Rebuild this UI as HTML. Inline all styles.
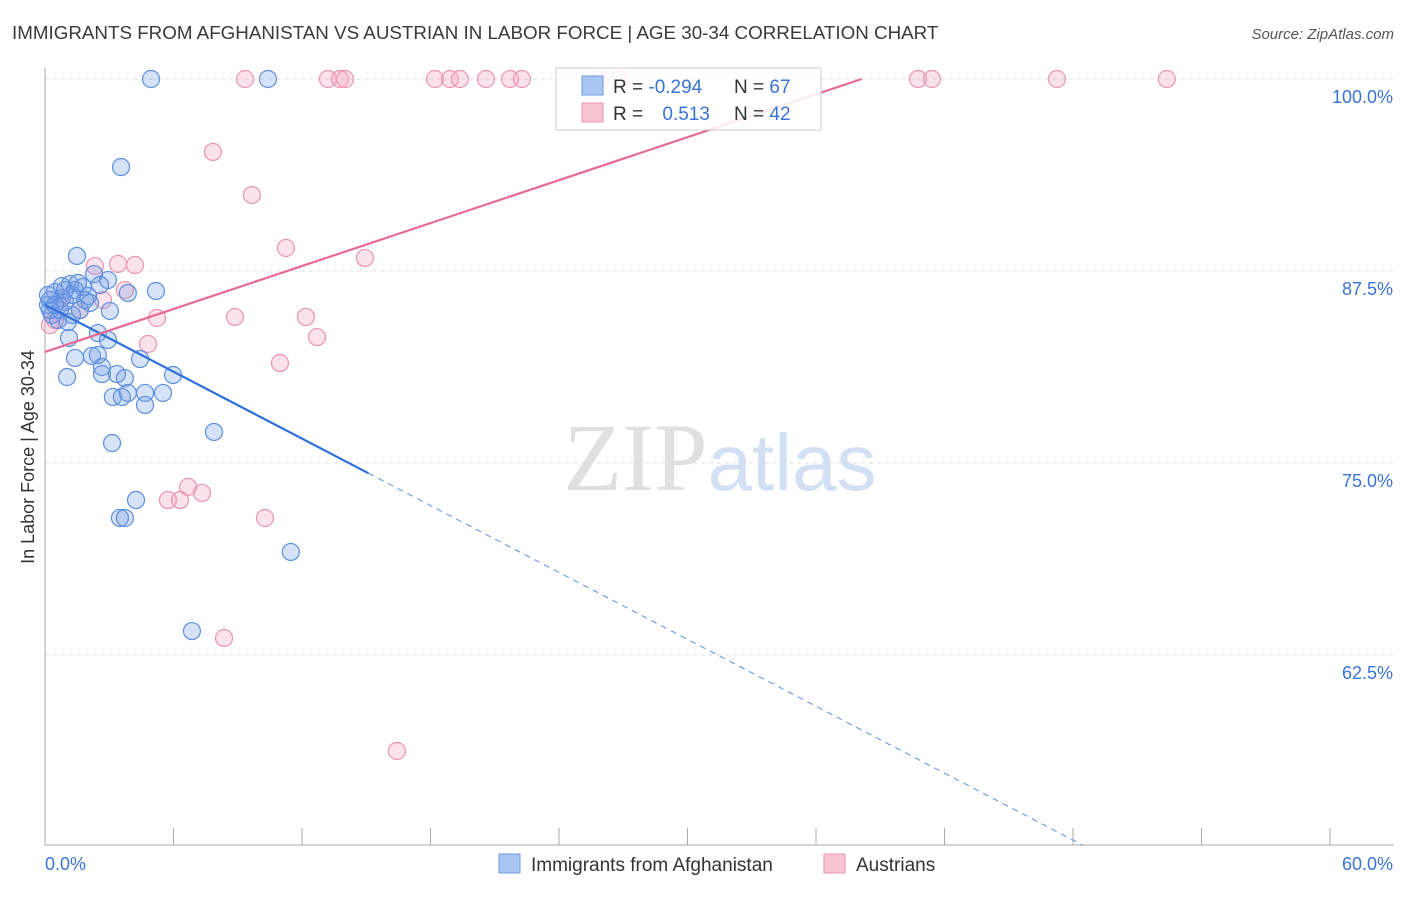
<!DOCTYPE html>
<html><head><meta charset="utf-8"><style>
body{margin:0;background:#fff;font-family:"Liberation Sans",sans-serif}
svg text{font-family:"Liberation Sans",sans-serif}
</style></head><body>
<svg id="chart" width="1406" height="892" xmlns="http://www.w3.org/2000/svg">
<text x="12" y="39" font-size="18.8" fill="#3a3a3a">IMMIGRANTS FROM AFGHANISTAN VS AUSTRIAN IN LABOR FORCE | AGE 30-34 CORRELATION CHART</text>
<text x="1394" y="39" font-size="15" fill="#555" text-anchor="end" font-style="italic">Source: ZipAtlas.com</text>
<text x="720" y="490" font-size="96" text-anchor="middle"><tspan fill="#e0e0e0" font-family="Liberation Serif">ZIP</tspan><tspan fill="#d3e0f4" font-size="80">atlas</tspan></text>
<text transform="translate(34,457) rotate(-90)" font-size="18" fill="#333" text-anchor="middle">In Labor Force | Age 30-34</text>
<g id="grid"></g><g id="marks"></g>
<g>
<rect x="556" y="68" width="265" height="62" fill="rgba(255,255,255,0.85)" stroke="#ccc"/>
<rect x="582" y="76" width="21" height="19" fill="#a9c6f2" stroke="#6d9be0"/>
<rect x="582" y="103" width="21" height="19" fill="#f8c3d3" stroke="#eb93b0"/>
<text x="613" y="93" font-size="19" fill="#333">R = <tspan fill="#3a74d6">-0.294</tspan></text>
<text x="734" y="93" font-size="19" fill="#333">N = <tspan fill="#3a74d6">67</tspan></text>
<text x="613" y="120" font-size="19" fill="#333">R = <tspan fill="#3a74d6" dx="14">0.513</tspan></text>
<text x="734" y="120" font-size="19" fill="#333">N = <tspan fill="#3a74d6">42</tspan></text>
</g>
<g>
<rect x="499" y="854" width="21" height="19" fill="#a9c6f2" stroke="#6d9be0"/>
<text x="531" y="871" font-size="19" fill="#333">Immigrants from Afghanistan</text>
<rect x="824" y="854" width="21" height="19" fill="#f8c3d3" stroke="#eb93b0"/>
<text x="856" y="871" font-size="19" fill="#333">Austrians</text>
</g>
</svg>
<script>
const xTicks=[0,6,12,18,24,30,36,42,48,54,60];
const yTicks=[100,87.5,75,62.5];
const blueX=[4.95,10.41,3.55,1.49,2.29,2.94,1.17,1.77,0.47,0.79,1.40,2.01,5.18,3.87,0.23,0.93,1.63,3.03,0.33,0.61,1.26,2.47,2.94,1.12,1.40,2.19,2.47,4.44,2.66,2.66,3.36,3.73,1.03,5.98,3.17,3.59,3.87,4.67,4.67,5.51,7.89,3.13,4.25,3.50,3.73,11.48,6.86,0.14,0.23,0.70,1.87,1.26,2.57,0.93,0.47,2.10,1.54,0.14,1.07,0.79];
const blueY=[100,100,94.27,88.48,87.30,86.91,86.65,86.46,86.13,85.74,86.26,85.87,86.20,86.07,85.61,85.48,84.96,84.90,84.64,84.31,84.64,83.46,83.01,83.14,81.84,81.97,82.03,81.77,81.25,80.79,80.79,80.53,80.60,80.73,79.30,79.30,79.56,79.56,78.78,79.56,77.02,76.30,72.59,71.42,71.42,69.21,64.06,85.29,84.96,84.96,85.61,85.94,86.59,86.26,85.29,85.42,86.72,85.94,84.18,86.52];
const pinkX=[9.34,13.21,13.77,14.01,18.21,18.91,19.37,20.59,21.71,22.27,25.91,26.84,40.76,41.41,47.25,52.38,7.84,9.66,11.25,14.94,3.41,4.20,2.33,3.73,2.71,5.23,8.87,12.18,1.63,12.70,4.81,10.97,0.23,0.47,6.68,7.33,5.74,6.30,10.27,8.36,16.43,0.70];
const pinkY=[100,100,100,100,100,100,100,100,100,100,100,100,100,100,100,100,95.25,92.45,89.00,88.35,87.96,87.89,87.83,86.26,85.61,84.44,84.51,84.51,84.96,83.20,82.75,81.51,83.98,84.31,73.44,73.05,72.59,72.59,71.42,63.61,56.25,85.61];
const blueTrend=[85.3,-0.726,15.1];
const pinkTrend=[82.23,0.466];
const X0=45,X1=1330,xMin=0,xMax=60,Y100=79,pxPer=15.36,yBottom=845;
const sx=v=>X0+(v-xMin)/(xMax-xMin)*(X1-X0);
const sy=v=>Y100+(100-v)*pxPer;
const yMinVal=100-(yBottom-Y100)/pxPer;
const NS='http://www.w3.org/2000/svg';
function mk(tag,at,parent){const e=document.createElementNS(NS,tag);for(const k in at)e.setAttribute(k,at[k]);parent.appendChild(e);return e;}
const grid=document.getElementById('grid'),marks=document.getElementById('marks');
yTicks.forEach(t=>{
 const l=mk('line',{x1:X0,x2:1394,y1:sy(t),y2:sy(t),stroke:'#ddd','stroke-dasharray':'4,4'},grid);
 
 
 const tx=mk('text',{x:1393,y:sy(t)+24,'font-size':18,fill:'#3a74d6','text-anchor':'end'},grid);
 tx.textContent=t.toFixed(1)+'%';
 
 
});
const ax=mk('line',{x1:X0,x2:X0,y1:68,y2:yBottom,stroke:'#aaa'},grid);


const bx=mk('line',{x1:X0,x2:1394,y1:yBottom,y2:yBottom,stroke:'#aaa'},grid);


xTicks.forEach(t=>{
 const l=mk('line',{x1:sx(t),x2:sx(t),y1:yBottom,y2:yBottom-17,stroke:'#aaa'},grid);
 
 
});
[[0,'start'],[60,'end']].forEach(([t,a])=>{
 const tx=mk('text',{x:t==0?45:1393,y:870,'font-size':18,fill:'#3a74d6','text-anchor':a},grid);
 tx.textContent=t.toFixed(1)+'%';
 
 
});
function dots(xs,ys,fill,stroke,name){
 xs.forEach((x,i)=>{
  const c=mk('circle',{cx:sx(x),cy:sy(ys[i]),r:8.5,fill:fill,stroke:stroke,'stroke-width':1.2},marks);
  
  
 });
}
dots(pinkX,pinkY,'rgba(244,160,190,0.3)','#eb93b0','austrian-point');
dots(blueX,blueY,'rgba(120,160,230,0.3)','#5b8fe0','afghanistan-point');
const bf=x=>blueTrend[0]+blueTrend[1]*x;
const bEnd=(yMinVal-blueTrend[0])/blueTrend[1];
const b1=mk('line',{x1:sx(0),y1:sy(bf(0)),x2:sx(blueTrend[2]),y2:sy(bf(blueTrend[2])),stroke:'#2f6fd8','stroke-width':2.2},marks);


const b2=mk('line',{x1:sx(blueTrend[2]),y1:sy(bf(blueTrend[2])),x2:sx(bEnd),y2:sy(bf(bEnd)),stroke:'#5b8fe0','stroke-width':1,'stroke-dasharray':'6,5'},marks);


const pEnd=(100-pinkTrend[0])/pinkTrend[1];
const p1=mk('line',{x1:sx(0),y1:sy(pinkTrend[0]),x2:sx(pEnd),y2:sy(100),stroke:'#e56a96','stroke-width':2.2},marks);


</script>
</body></html>
